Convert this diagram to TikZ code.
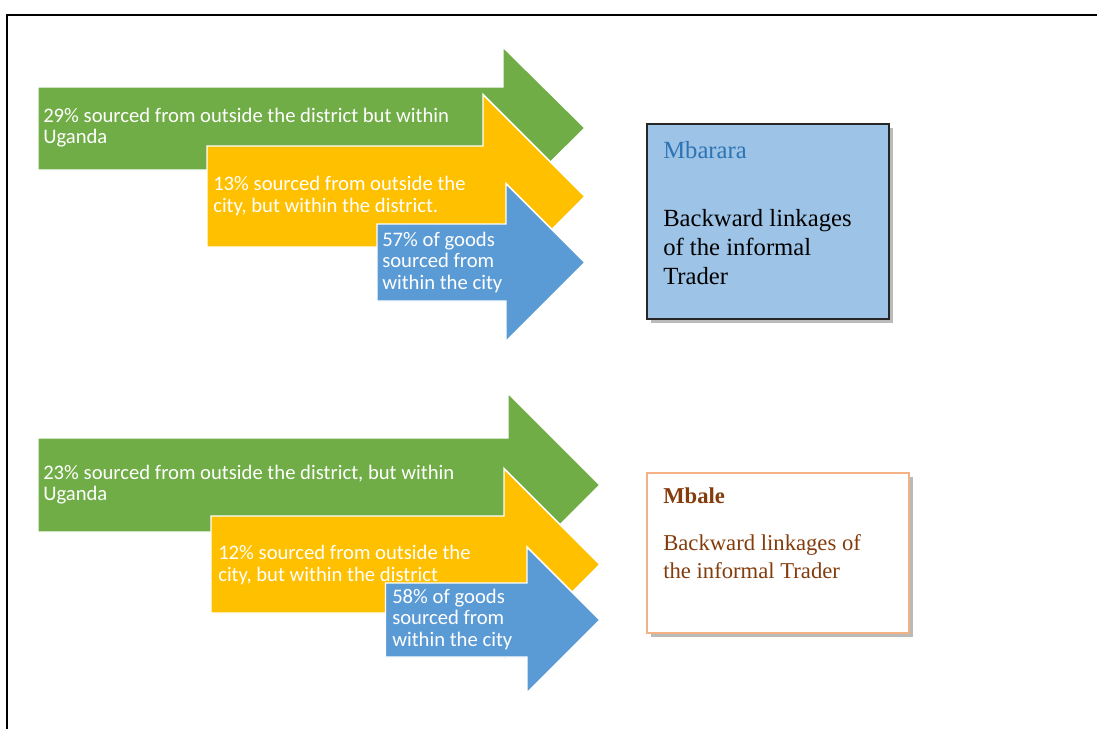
\documentclass[tikz,border=0pt]{standalone}
\usepackage{fontspec}
\setmainfont{Liberation Serif}
\newfontfamily\calib{Carlito}
\usetikzlibrary{shadows}
\definecolor{agreen}{HTML}{70AD47}
\definecolor{ayellow}{HTML}{FFC000}
\definecolor{ablue}{HTML}{5B9BD5}
\definecolor{boxblue}{HTML}{9DC3E6}
\definecolor{titleblue}{HTML}{2E74B5}
\definecolor{mborange}{HTML}{F4B183}
\definecolor{mbbrown}{HTML}{843C0C}
\begin{document}
\begin{tikzpicture}[x=0.75pt,y=-0.75pt,
  arrowshape/.style={draw=white,line width=1.1pt,line join=miter},
  atext/.style={anchor=north west,inner sep=0pt,align=left,text=white,
    font=\calib\fontsize{15.5}{16.2}\selectfont},
  shad/.style={drop shadow={shadow xshift=3pt,shadow yshift=-3pt,opacity=0.45,fill=black!60}},
  citybox/.style={rectangle,inner sep=0pt,shad},
  titletext/.style={anchor=base west,inner sep=0pt},
  bodytext/.style={anchor=north west,inner sep=0pt,align=left}
]
\useasboundingbox (0,0) rectangle (1097,729);
\fill[white] (0,0) rectangle (1097,729);
% page frame
\draw[line width=1.3pt] (7,729) -- (7,15) -- (1097,15);

% ---------- Mbarara arrows ----------
\filldraw[arrowshape,fill=agreen] (38,87) -- (503,87) -- (503,47) -- (585,128) -- (503,209) -- (503,170) -- (38,170) -- cycle;
\node[atext] (t29) at (43,107.5) {29\% sourced from outside the district but within\\Uganda};
\filldraw[arrowshape,fill=ayellow] (207,146) -- (483,146) -- (483,94.5) -- (585,196.5) -- (483,298.5) -- (483,247) -- (207,247) -- cycle;
\node[atext] (t13) at (213,176.2) {13\% sourced from outside the\\city, but within the district.};
\filldraw[arrowshape,fill=ablue] (377,224) -- (506,224) -- (506,183.5) -- (585,262.5) -- (506,341.5) -- (506,301) -- (377,301) -- cycle;
\node[atext] (t57) at (382,231.5) {57\% of goods\\sourced from\\within the city};

% ---------- Mbale arrows ----------
\filldraw[arrowshape,fill=agreen] (38,438) -- (508,438) -- (508,393) -- (600,485) -- (508,577) -- (508,532) -- (38,532) -- cycle;
\node[atext] (t23) at (43,464.5) {23\% sourced from outside the district, but within\\Uganda};
\filldraw[arrowshape,fill=ayellow] (211,516) -- (504,516) -- (504,468.5) -- (600,564.5) -- (504,660.5) -- (504,613) -- (211,613) -- cycle;
\node[atext] (t12) at (218,544.8) {12\% sourced from outside the\\city, but within the district};
\filldraw[arrowshape,fill=ablue] (385.5,583) -- (527,583) -- (527,547) -- (600,620) -- (527,693) -- (527,657) -- (385.5,657) -- cycle;
\node[atext] (t58) at (392,588.5) {58\% of goods\\sourced from\\within the city};

% ---------- Mbarara box ----------
\node[citybox,fill=boxblue,draw=black!85,line width=0.8pt,minimum width=181.5pt,minimum height=146.25pt] (mbarara) at (768,221.5) {};
\node[titletext,text=titleblue,font=\fontsize{18.5}{21.75}\selectfont] (mbararatitle) at (663,158) {Mbarara};
\node[bodytext,font=\fontsize{18.5}{21.75}\selectfont] (mbararabody) at (663,209.1) {Backward linkages\\of the informal\\Trader};

% ---------- Mbale box ----------
\node[citybox,fill=white,draw=mborange,line width=1pt,minimum width=196.5pt,minimum height=120pt] (mbale) at (778,553) {};
\node[titletext,text=mbbrown,font=\bfseries\fontsize{17}{20.8}\selectfont] (mbaletitle) at (663,503) {Mbale};
\node[bodytext,text=mbbrown,font=\fontsize{17}{20.8}\selectfont] (mbalebody) at (663,534.5) {Backward linkages of\\the informal Trader};
\end{tikzpicture}
\end{document}
